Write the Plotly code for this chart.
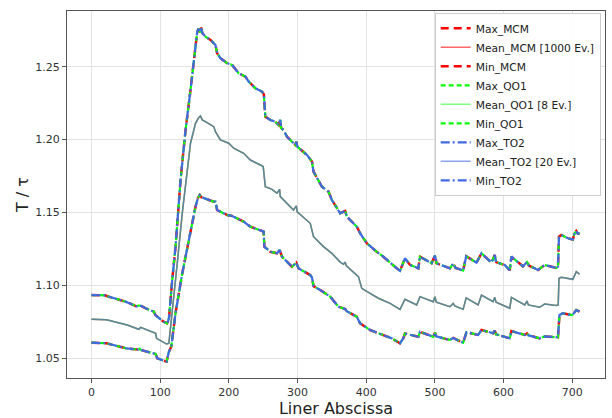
import plotly.graph_objects as go

# Upper envelope (maximum) of the normalised temperature along the liner
x_max = [0, 20, 23, 50, 66, 68, 72, 79, 91, 93, 105, 110, 112, 113,
         117.6, 122.4, 129.7, 137, 144.2, 151.5, 154, 156, 158, 159.5, 161.5,
         166, 173.3, 180.5, 183, 187.8, 197.5, 204.8, 214.3, 224.1, 228.9,
         238.6, 248.3, 251, 253.1, 260.4, 267.6, 272.4, 274.9, 276, 279.7,
         284.6, 287, 296.7, 298.2, 300, 313.7, 321, 323.3, 335.5, 345.1, 350,
         362, 369.3, 371.8, 386.3, 391.1, 400.8, 415.3, 424.9, 444.4, 449.2,
         456.4, 463.7, 475.8, 478.3, 495.2, 500, 502.4, 521.8, 526.6, 530,
         541.1, 545.5, 560.6, 567.8, 582.4, 587.1, 589, 601.7, 608.9, 611.4,
         625.9, 628, 634, 637, 645.2, 650, 659.7, 670, 679.1, 680.6, 684,
         693.6, 700.8, 703.3, 705.8, 708, 710.6]
t_max = [1.0934, 1.0932, 1.0926, 1.0888, 1.0855, 1.0862, 1.0860, 1.0843,
         1.0820, 1.0797, 1.0751, 1.0740, 1.0760, 1.0785,
         1.1037, 1.1266, 1.1723, 1.2066, 1.2340, 1.2638, 1.2741, 1.2760,
         1.2735, 1.2771, 1.2730,
         1.2706, 1.2684, 1.2649, 1.2592, 1.2558, 1.2524, 1.2512, 1.2455,
         1.2432, 1.2398, 1.2352, 1.2329, 1.2310, 1.2157, 1.2135, 1.2123,
         1.2100, 1.2135, 1.2080, 1.2066, 1.2020, 1.2009, 1.1963, 1.1985,
         1.1950, 1.1895, 1.1849, 1.1780, 1.1677, 1.1643, 1.1586, 1.1495,
         1.1510, 1.1471, 1.1403, 1.1358, 1.1289, 1.1231, 1.1197, 1.1117,
         1.1100, 1.1186, 1.1141, 1.1117, 1.1197, 1.1152, 1.1205, 1.1152,
         1.1117, 1.1150, 1.1120, 1.1102, 1.1200, 1.1156, 1.1220, 1.1156,
         1.1209, 1.1160, 1.1140, 1.1104, 1.1197, 1.1140, 1.1130, 1.1160,
         1.1135, 1.1117, 1.1106, 1.1140, 1.1125, 1.1117, 1.1334, 1.1346,
         1.1323, 1.1315, 1.1358, 1.1373, 1.1355, 1.1358]

# Mean temperature
x_mean = [0, 22, 52, 69, 71.6, 93.4, 94.8, 109.4, 112.7, 117.6, 124.9,
          132.2, 138.4, 144.2, 151.5, 156, 158.7, 161.2, 166, 178, 180.5,
          187.8, 199.8, 207.1, 221.6, 231.3, 245.9, 250, 253.1, 262.9, 270.1,
          273.9, 274.9, 284.6, 294.2, 298.2, 299.5, 318.5, 323.3, 337.8, 350,
          362.1, 367, 369.3, 371, 388.7, 393.5, 405.6, 417.7, 434.7, 449.2,
          456.4, 473.4, 478.3, 497.5, 500, 502, 521.8, 526.6, 529, 541.1,
          545.5, 562.9, 567.8, 584.7, 587.1, 589, 608.9, 611.4, 630.8, 634,
          636, 652.5, 659.7, 676.7, 679.5, 680.6, 684, 693.6, 700.8, 705.8,
          710.6]
t_mean = [1.0768, 1.0765, 1.0728, 1.0699, 1.0712, 1.0671, 1.0637, 1.0598,
          1.0603, 1.0809, 1.1152, 1.1495, 1.1723, 1.1975, 1.2112, 1.2150,
          1.2162, 1.2135, 1.2123, 1.2089, 1.2055, 1.1998, 1.1975, 1.1941,
          1.1906, 1.1860, 1.1826, 1.1815, 1.1677, 1.1659, 1.1632, 1.1659,
          1.1609, 1.1563, 1.1517, 1.1545, 1.1505, 1.1426, 1.1334, 1.1266,
          1.1220, 1.1160, 1.1145, 1.1160, 1.1135, 1.1060, 1.0980, 1.0946,
          1.0912, 1.0877, 1.0836, 1.0905, 1.0866, 1.0923, 1.0888, 1.0923,
          1.0885, 1.0854, 1.0877, 1.0860, 1.0836, 1.0915, 1.0866, 1.0934,
          1.0888, 1.0918, 1.0885, 1.0843, 1.0918, 1.0866, 1.0893, 1.0866,
          1.0850, 1.0872, 1.0862, 1.0866, 1.1049, 1.1056, 1.1049, 1.1042,
          1.1094, 1.1078]

# Lower envelope (minimum)
x_min = [0, 22, 49.8, 68, 70, 72, 93.4, 95.8, 109.4, 112.7, 116.2, 122.4,
         132.2, 141.7, 151.5, 155, 157.7, 160, 163.5, 178, 180.5, 183, 197.5,
         204.8, 221.6, 231.3, 250.7, 251.7, 260.4, 270.1, 273.9, 277.4, 291.9,
         298.2, 301.5, 318.5, 321, 323.3, 332.9, 347.5, 359.6, 369.3, 371,
         386.3, 391.1, 405.6, 417.7, 437.1, 449.2, 454, 456.4, 473.4, 475.8,
         478.3, 497.5, 500, 502, 521.8, 526.6, 541.1, 546, 562.9, 567.8,
         584.7, 587.1, 589, 608.9, 611.4, 630.8, 634, 636, 652.5, 660, 679.1,
         681.3, 686.1, 698.3, 700.8, 705.8, 710.6]
t_min = [1.0607, 1.0603, 1.0569, 1.0560, 1.0566, 1.0557, 1.0530, 1.0500,
         1.0477, 1.0545, 1.0580, 1.0809, 1.1083, 1.1312, 1.1540, 1.1600,
         1.1620, 1.1605, 1.1598, 1.1574, 1.1574, 1.1517, 1.1483, 1.1476,
         1.1437, 1.1403, 1.1369, 1.1266, 1.1231, 1.1220, 1.1243, 1.1197,
         1.1128, 1.1156, 1.1117, 1.1071, 1.1055, 1.0995, 1.0969, 1.0923,
         1.0854, 1.0838, 1.0825, 1.0785, 1.0740, 1.0694, 1.0672, 1.0637,
         1.0603, 1.0637, 1.0670, 1.0650, 1.0648, 1.0682, 1.0648, 1.0676,
         1.0650, 1.0626, 1.0640, 1.0607, 1.0680, 1.0660, 1.0694, 1.0672,
         1.0690, 1.0665, 1.0637, 1.0687, 1.0660, 1.0670, 1.0658, 1.0637,
         1.0650, 1.0644, 1.0797, 1.0809, 1.0797, 1.0800, 1.0831, 1.0820]

x_ticks = [0, 100, 200, 300, 400, 500, 600, 700]
y_ticks = [1.05, 1.10, 1.15, 1.20, 1.25]

# (label, envelope color, envelope dash, envelope width, mean color, evaluations)
methods = [
    ("MCM", "#ff0000", "8px,5px", 2.5, "rgba(255,0,0,0.6)", "1000 Ev."),
    ("QO1", "#00ff00", "5px,3px", 2.2, "rgba(0,255,0,0.5)", "8 Ev."),
    ("TO2", "#4169e1", "9px,3px,2px,3px", 2.2, "rgba(65,105,225,0.6)", "20 Ev."),
]

fig = go.Figure()
for name, col, dash, lw, mcol, nev in methods:
    fig.add_trace(go.Scatter(x=x_max, y=t_max, mode="lines", name=f"Max_{name}",
                             line=dict(color=col, width=lw, dash=dash)))
    fig.add_trace(go.Scatter(x=x_mean, y=t_mean, mode="lines",
                             name=f"Mean_{name} [{nev}]",
                             line=dict(color=mcol, width=1.5)))
    fig.add_trace(go.Scatter(x=x_min, y=t_min, mode="lines", name=f"Min_{name}",
                             line=dict(color=col, width=lw, dash=dash)))

axis_common = dict(
    showline=True, linecolor="#555", linewidth=1, mirror=True,
    showgrid=True, gridcolor="#e3e3e3", gridwidth=1,
    ticks="outside", ticklen=4, tickcolor="#555",
    tickfont=dict(family="DejaVu Sans", size=11, color="#333"),
    zeroline=False, automargin=False,
)

fig.update_layout(
    width=612, height=418,
    margin=dict(l=67, r=7, t=11, b=40),
    plot_bgcolor="white", paper_bgcolor="white",
    font=dict(family="DejaVu Sans", color="#222"),
    xaxis=dict(range=[-35.6, 747.6], tickvals=x_ticks,
               title=dict(text="Liner Abscissa", font=dict(size=16), standoff=9),
               **axis_common),
    yaxis=dict(range=[1.0365, 1.2882], tickvals=y_ticks,
               ticktext=[f"{v:.2f}" for v in y_ticks],
               title=dict(text="T / τ", font=dict(size=16), standoff=2),
               **axis_common),
    legend=dict(x=0.992, y=0.995, xanchor="right", yanchor="top",
                bgcolor="rgba(255,255,255,0.9)", bordercolor="#ccc",
                borderwidth=1, font=dict(family="DejaVu Sans", size=10.7, color="#222")),
    showlegend=True,
)

fig.write_html("out.html")
